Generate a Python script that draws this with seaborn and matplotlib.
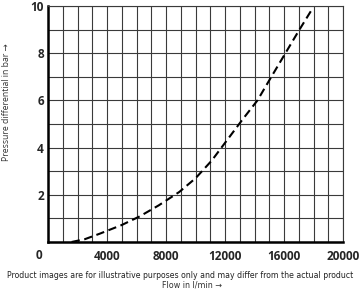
import matplotlib
matplotlib.use("Agg")
import matplotlib.pyplot as plt
import seaborn as sns
import pandas as pd
from matplotlib.ticker import MultipleLocator

flow = [1600, 2500, 3500, 5000, 6200, 7500, 8900, 10000, 11100, 12300, 13200, 14200, 15000, 16000, 17000, 17840]
pressure = [0.0, 0.12, 0.35, 0.72, 1.08, 1.55, 2.12, 2.7, 3.45, 4.45, 5.2, 6.0, 6.85, 7.9, 8.95, 9.8]
x_ticks = [4000, 8000, 12000, 16000, 20000]
y_ticks = [2, 4, 6, 8, 10]
x_label = "Flow in l/min →"
y_label = "Pressure differential in bar →"
disclaimer = "Product images are for illustrative purposes only and may differ from the actual product"

df = pd.DataFrame({"flow": flow, "pressure": pressure})

sns.set_style("white")
plt.rcParams['font.family'] = ['DejaVu Sans']

fig = plt.figure(figsize=(3.61, 2.90), dpi=100)
ax = fig.add_axes([48/361, 1-242/290, (343-48)/361, (242-6)/290])

sns.lineplot(data=df, x="flow", y="pressure", ax=ax, color="black", linewidth=1.5,
             linestyle=(0, (4, 2.2)))

ax.set_xlim(0, 20000)
ax.set_ylim(0, 10)
ax.xaxis.set_minor_locator(MultipleLocator(1000))
ax.yaxis.set_minor_locator(MultipleLocator(1))
ax.set_xticks(x_ticks)
ax.set_yticks(y_ticks)
tick_font = dict(fontweight="bold", fontsize=8.5, family=["Open Sans", "DejaVu Sans"])
ax.set_xticklabels([str(v) for v in x_ticks], **tick_font)
ax.set_yticklabels([str(v) for v in y_ticks], **tick_font)
ax.grid(True, which="both", color="#3a3a3a", linewidth=0.8)
ax.tick_params(which="both", length=0)
ax.tick_params(axis="y", pad=3)
ax.tick_params(axis="x", pad=6)
ax.set_xlabel("")
ax.set_ylabel("")

for s in ["top", "right"]:
    ax.spines[s].set_color("#3a3a3a")
    ax.spines[s].set_linewidth(0.8)
for s in ["left", "bottom"]:
    ax.spines[s].set_color("black")
    ax.spines[s].set_linewidth(1.8)

ax.annotate("0", xy=(0, 0), xycoords="data", xytext=(-6.5, -9.5), textcoords="offset points",
            ha="center", va="center", **tick_font)

fig.text(7/361, 1-102/290, y_label, rotation=90, ha="center", va="center",
         fontsize=6.2, color="#333333", family=["Open Sans", "DejaVu Sans"])
fig.text(192/361, 1-285.5/290, x_label, ha="center", va="center", fontsize=5.8,
         color="#333333")
fig.text(180/361, 1-276/290, disclaimer, ha="center", va="center", fontsize=5.6, color="#222222")

fig.savefig("out.png", dpi=100)
